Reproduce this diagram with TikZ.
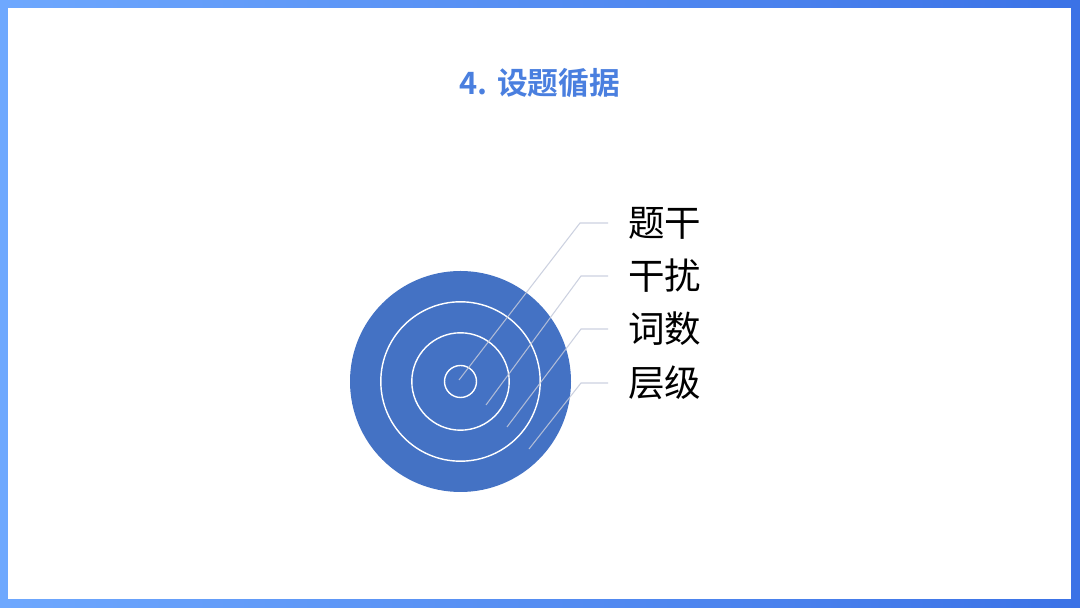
\documentclass[tikz,border=0pt]{standalone}
\usepackage{fontspec}
\setmainfont{Noto Sans CJK SC}[BoldFont={Noto Sans CJK SC Bold}]
\definecolor{frameleft}{HTML}{6EA8FE}
\definecolor{frameright}{HTML}{3B72E6}
\definecolor{titleblue}{HTML}{4A7FDF}
\definecolor{ringblue}{HTML}{4472C4}
\definecolor{leader}{HTML}{C4CADB}
\tikzset{
  ring/.style={draw=white,line width=0.8pt},
  leaderline/.style={draw=leader,line width=0.6pt,opacity=0.85},
  layer/.style={anchor=west,inner xsep=0.4cm,inner ysep=0pt,font=\fontsize{20.8}{24}\selectfont}
}
\begin{document}
\begin{tikzpicture}[x=0.02cm,y=0.02cm]
  \useasboundingbox (0,0) rectangle (1080,608);
  \shade[left color=frameleft,right color=frameright] (0,0) rectangle (1080,608);
  \fill[white] (8,9) rectangle (1071,600);
  \node (title) at (540,525) {\fontsize{17.5}{21}\selectfont\bfseries\color{titleblue}4. 设题循据};
  % target
  \fill[ringblue] (460.5,226.5) circle (110.5);
  \draw[ring] (460.5,226.5) circle (79.7);
  \draw[ring] (460.5,226.5) circle (48.7);
  \draw[ring] (460.5,226.5) circle (16);
  % labels
  \node[layer] (t1) at (608,385) {题干};
  \node[layer] (t2) at (608,332) {干扰};
  \node[layer] (t3) at (608,279) {词数};
  \node[layer] (t4) at (608,225) {层级};
  \coordinate (s1) at (459,228);
  \coordinate (s2) at (486,203);
  \coordinate (s3) at (507,181);
  \coordinate (s4) at (529,159);
  \coordinate (e1) at (580,385);
  \coordinate (e2) at (581,332);
  \coordinate (e3) at (581,279);
  \coordinate (e4) at (581,225);
  \begin{scope}[leaderline]
    \draw (s1) -- (e1) -- (t1.west);
    \draw (s2) -- (e2) -- (t2.west);
    \draw (s3) -- (e3) -- (t3.west);
    \draw (s4) -- (e4) -- (t4.west);
  \end{scope}
\end{tikzpicture}
\end{document}
